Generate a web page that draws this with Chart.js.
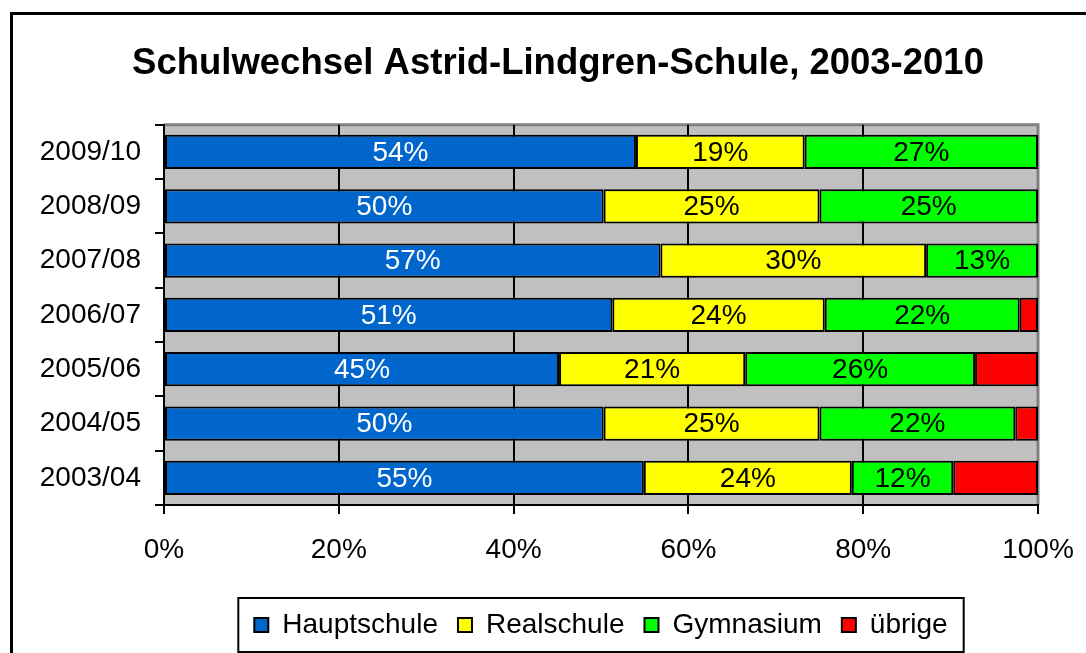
<!DOCTYPE html>
<html>
<head>
<meta charset="utf-8">
<script src="https://cdn.jsdelivr.net/npm/chart.js@4"></script>
<style>
  html, body { margin: 0; padding: 0; background: #fff; overflow: hidden; }
  #rahmen { position: absolute; left: 10px; top: 12px; width: 1100px; height: 700px; border: 3px solid #000; box-sizing: border-box; }
  #myChart { position: absolute; left: 0; top: 0; }
</style>
</head>
<body>
<div id="rahmen"></div>
<canvas id="myChart" width="1086" height="653"></canvas>
<script>
// Schuljahre, oben nach unten
const schuljahre = ["2009/10", "2008/09", "2007/08", "2006/07", "2005/06", "2004/05", "2003/04"];
const hauptschule = [54.0, 50.3, 56.8, 51.3, 45.2, 50.3, 54.9];
const realschule = [19.3, 24.7, 30.4, 24.3, 21.3, 24.7, 23.8];
const gymnasium = [26.7, 25.0, 12.8, 22.3, 26.3, 22.4, 11.6];
const uebrige = [0, 0, 0, 2.1, 7.2, 2.6, 9.7];
const xTicks = [0, 20, 40, 60, 80, 100];

const schrift = "'Liberation Sans', Arial, sans-serif";
const graphic = document.getElementById("myChart").getContext("2d");

// grauer Hintergrund der Zeichenflaeche, Titel mittig im Rahmen
const hintergrund = {
    id: "hintergrund",
    afterLayout(chart) {
        chart.titleBlock.left = 30;
        chart.titleBlock.right = 1086;
        chart.titleBlock.width = 1056;
    },
    beforeDraw(chart) {
        const a = chart.chartArea;
        const ctx = chart.ctx;
        ctx.save();
        ctx.fillStyle = "#c0c0c0";
        ctx.fillRect(a.left, a.top, a.right - a.left, a.bottom - a.top);
        ctx.strokeStyle = "#808080";
        ctx.lineWidth = 3;
        ctx.beginPath();
        ctx.moveTo(a.left, a.top);
        ctx.lineTo(a.right, a.top);
        ctx.lineTo(a.right, a.bottom);
        ctx.stroke();
        ctx.restore();
    }
};

// Prozentwerte in die Balken schreiben
const beschriftung = {
    id: "beschriftung",
    afterDatasetsDraw(chart) {
        const ctx = chart.ctx;
        ctx.save();
        ctx.font = "28px " + schrift;
        ctx.textAlign = "center";
        ctx.textBaseline = "middle";
        chart.data.datasets.forEach((ds, i) => {
            const meta = chart.getDatasetMeta(i);
            meta.data.forEach((bar, j) => {
                const wert = ds.data[j];
                if (wert < 10) return;
                ctx.fillStyle = i == 0 ? "#fff" : "#000";
                ctx.fillText(Math.round(wert) + "%", (bar.x + bar.base) / 2, bar.y + 1);
            });
        });
        ctx.restore();
    }
};

// Rahmen um die Legende
const legendenRahmen = {
    id: "legendenRahmen",
    afterDraw(chart) {
        const boxes = chart.legend.legendHitBoxes;
        if (!boxes || !boxes.length) return;
        let l = Infinity, r = -Infinity, t = Infinity, b = -Infinity;
        boxes.forEach((h) => {
            l = Math.min(l, h.left); r = Math.max(r, h.left + h.width);
            t = Math.min(t, h.top); b = Math.max(b, h.top + h.height);
        });
        const mitte = (t + b) / 2;
        const ctx = chart.ctx;
        ctx.save();
        ctx.strokeStyle = "#000";
        ctx.lineWidth = 2;
        ctx.strokeRect(l - 16, mitte - 27, r - l + 32, 54);
        ctx.restore();
    }
};

function datensatz(name, werte, farbe) {
    return {
        label: name,
        data: werte,
        backgroundColor: farbe,
        borderColor: "#000",
        borderWidth: 2,
        borderSkipped: false,
        barPercentage: 0.63,
        categoryPercentage: 1
    };
}

window.graphic = new Chart(graphic, {
    type: "bar",
    data: {
        labels: schuljahre,
        datasets: [
            datensatz("Hauptschule", hauptschule, "#0066cc"),
            datensatz("Realschule", realschule, "#ffff00"),
            datensatz("Gymnasium", gymnasium, "#00ff00"),
            datensatz("übrige", uebrige, "#ff0000")
        ]
    },
    options: {
        indexAxis: "y",
        responsive: false,
        animation: false,
        layout: { padding: { left: 35, right: 48, top: 0, bottom: 4 } },
        scales: {
            x: {
                stacked: true,
                min: 0,
                max: 100,
                afterBuildTicks(scale) {
                    scale.ticks = xTicks.map((v) => ({ value: v }));
                },
                afterFit(scale) {
                    scale.height = 86;
                    scale.paddingLeft = 0;
                    scale.paddingRight = 0;
                },
                ticks: {
                    color: "#000",
                    font: { family: schrift, size: 28 },
                    padding: 19,
                    maxRotation: 0,
                    callback: (v) => v + "%"
                },
                grid: {
                    color: (c) => (c.tick && c.tick.value == 100 ? "rgba(0,0,0,0)" : "#000"),
                    tickColor: "#000",
                    lineWidth: 2,
                    tickLength: 9
                },
                border: { color: "#000", width: 2 }
            },
            y: {
                stacked: true,
                afterFit(scale) {
                    scale.width = 129;
                    scale.paddingTop = 0;
                    scale.paddingBottom = 0;
                },
                ticks: {
                    color: "#000",
                    font: { family: schrift, size: 28 },
                    padding: 14
                },
                grid: {
                    drawOnChartArea: false,
                    color: "#000",
                    lineWidth: 2,
                    tickLength: 9
                },
                border: { color: "#000", width: 2 }
            }
        },
        plugins: {
            title: {
                display: true,
                text: "Schulwechsel Astrid-Lindgren-Schule, 2003-2010",
                color: "#000",
                font: { family: schrift, size: 36.5, weight: "bold" },
                padding: { top: 42, bottom: 39 }
            },
            legend: {
                position: "bottom",
                fullSize: false,
                labels: {
                    color: "#000",
                    font: { family: schrift, size: 28 },
                    boxWidth: 14,
                    boxHeight: 14,
                    padding: 20
                }
            },
            tooltip: { enabled: false }
        }
    },
    plugins: [hintergrund, beschriftung, legendenRahmen]
});
</script>
</body>
</html>
